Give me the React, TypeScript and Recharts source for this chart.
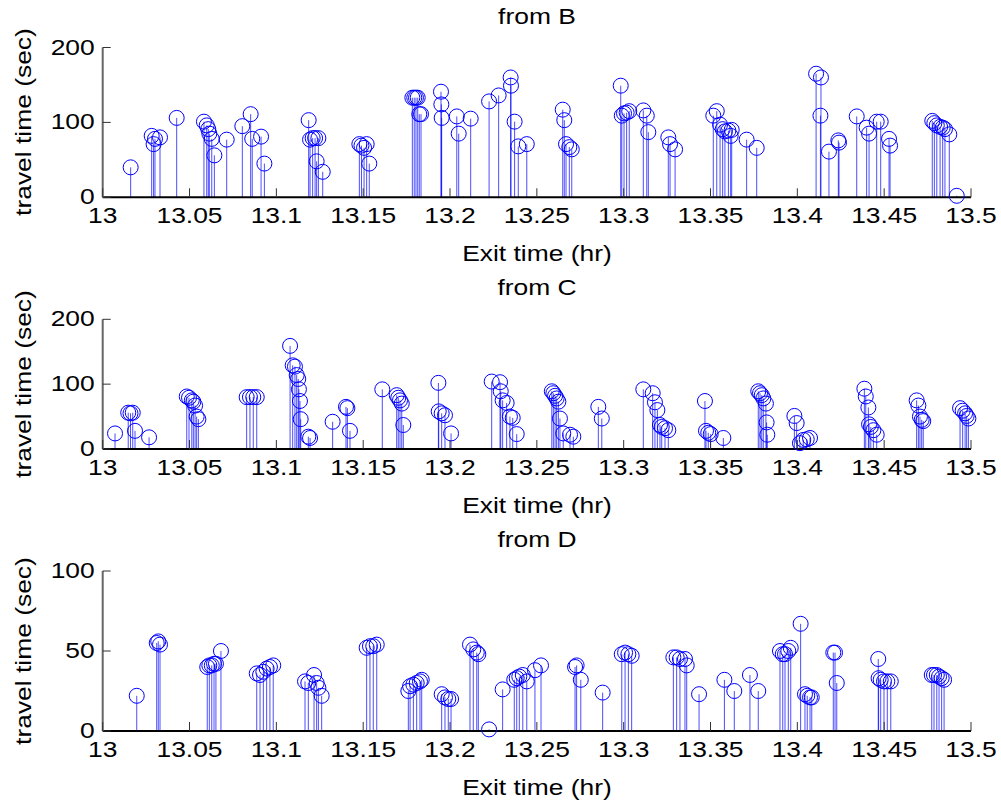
import { ScatterChart, Scatter, XAxis, YAxis, ErrorBar } from "recharts";

const xTicks = [13, 13.05, 13.1, 13.15, 13.2, 13.25, 13.3, 13.35, 13.4, 13.45, 13.5];
const yTicksBC = [0, 100, 200];
const yTicksD = [0, 50, 100];

// from B
const timesB = [
  13.0161, 13.0282, 13.0293, 13.0301, 13.033, 13.0426, 13.0583, 13.0599, 13.0608, 13.0614, 13.0628, 13.0643,
  13.0714, 13.0804, 13.0852, 13.0861, 13.0912, 13.0931, 13.1186, 13.1194, 13.1209, 13.1223, 13.1232, 13.1242,
  13.1267, 13.1478, 13.149, 13.1505, 13.152, 13.1535, 13.1783, 13.1794, 13.1804, 13.1814, 13.1823, 13.1833,
  13.1948, 13.195, 13.1952, 13.2039, 13.205, 13.2119, 13.2225, 13.228, 13.2349, 13.2351, 13.2372, 13.2393,
  13.2442, 13.2649, 13.2658, 13.2668, 13.2687, 13.2701, 13.2983, 13.2989, 13.3002, 13.3017, 13.3032, 13.3113,
  13.3133, 13.3142, 13.3257, 13.3267, 13.3296, 13.3516, 13.3536, 13.3555, 13.357, 13.3583, 13.3603, 13.3616,
  13.3622, 13.3708, 13.3766, 13.4108, 13.4133, 13.4136, 13.4182, 13.4236, 13.424, 13.4342, 13.4399, 13.4413,
  13.4457, 13.448, 13.4528, 13.4534, 13.4777, 13.4789, 13.4803, 13.4822, 13.4837, 13.485, 13.4875, 13.4918,
];
const travelB = [
  40, 82, 71, 78, 80, 106, 101, 96, 91, 85, 78, 56,
  77, 95, 111, 78, 81, 45, 103, 77, 79, 79, 48, 79,
  34, 71, 69, 66, 71, 45, 133, 133, 133, 133, 111, 111,
  141, 124, 106, 108, 85, 105, 128, 136, 160, 149, 101, 68,
  71, 117, 103, 71, 67, 64, 149, 109, 112, 113, 115, 116,
  109, 87, 80, 71, 64, 109, 115, 97, 91, 88, 89, 82,
  90, 77, 66, 165, 109, 160, 61, 76, 73, 108, 93, 85,
  101, 101, 78, 69, 102, 99, 96, 94, 93, 91, 84, 2,
];

// from C
const timesC = [
  13.0071, 13.0147, 13.016, 13.0173, 13.0186, 13.0267, 13.0484, 13.0497, 13.0513, 13.0522, 13.0532, 13.0541,
  13.0551, 13.0829, 13.0848, 13.0867, 13.0887, 13.1079, 13.1094, 13.1107, 13.1117, 13.1126, 13.113, 13.1136,
  13.114, 13.1184, 13.1194, 13.1324, 13.1401, 13.1409, 13.1424, 13.161, 13.1693, 13.1702, 13.1712, 13.1722,
  13.1731, 13.1933, 13.1935, 13.1952, 13.1971, 13.2006, 13.224, 13.2288, 13.2292, 13.2303, 13.2326, 13.2345,
  13.2361, 13.2384, 13.2586, 13.2595, 13.2605, 13.2614, 13.2624, 13.2633, 13.2652, 13.2691, 13.271, 13.2854,
  13.2874, 13.3113, 13.3167, 13.318, 13.3194, 13.3209, 13.3219, 13.3238, 13.3257, 13.3468, 13.3474, 13.3487,
  13.3501, 13.3574, 13.3775, 13.3785, 13.3795, 13.3804, 13.3819, 13.3823, 13.3827, 13.3983, 13.3996, 13.4015,
  13.4034, 13.4054, 13.4073, 13.4386, 13.4394, 13.4409, 13.4413, 13.4423, 13.4438, 13.4457, 13.4687, 13.4697,
  13.4706, 13.4716, 13.4725, 13.4937, 13.4952, 13.4966, 13.4975, 13.4985,
];
const travelC = [
  24, 56, 55, 56, 28, 18, 81, 79, 75, 73, 67, 50,
  46, 80, 80, 80, 80, 159, 129, 127, 114, 108, 92, 74,
  46, 19, 17, 42, 65, 63, 28, 92, 83, 79, 75, 70,
  37, 102, 58, 55, 52, 24, 104, 103, 89, 75, 71, 50,
  48, 23, 89, 86, 82, 78, 73, 47, 24, 22, 19, 65,
  47, 92, 86, 72, 60, 37, 34, 32, 29, 74, 28, 25,
  23, 17, 89, 86, 83, 78, 70, 41, 22, 51, 40, 9,
  14, 15, 17, 93, 81, 64, 38, 34, 29, 22, 75, 67,
  50, 45, 43, 63, 59, 55, 51, 47,
];

// from D
const timesD = [
  13.0196, 13.0311, 13.032, 13.033, 13.0602, 13.0614, 13.0628, 13.0641, 13.0652, 13.0681, 13.0887, 13.0906,
  13.0925, 13.0944, 13.0963, 13.0982, 13.1165, 13.1184, 13.1217, 13.1232, 13.1242, 13.1261, 13.152, 13.1539,
  13.1558, 13.1578, 13.176, 13.177, 13.1789, 13.1808, 13.1827, 13.1837, 13.1952, 13.1971, 13.199, 13.2006,
  13.2115, 13.2134, 13.2154, 13.2163, 13.2225, 13.2303, 13.237, 13.2384, 13.2399, 13.2419, 13.2442, 13.2489,
  13.2524, 13.272, 13.2729, 13.2753, 13.2879, 13.2989, 13.3008, 13.3027, 13.3046, 13.3286, 13.3305, 13.3324,
  13.3353, 13.3363, 13.3434, 13.358, 13.3637, 13.3727, 13.3775, 13.39, 13.3916, 13.3929, 13.3948, 13.3962,
  13.4019, 13.4044, 13.4057, 13.4073, 13.4083, 13.4207, 13.4217, 13.4227, 13.4466, 13.4468, 13.448, 13.4499,
  13.4518, 13.4538, 13.4774, 13.4787, 13.4803, 13.4816, 13.4831, 13.4845,
];
const travelD = [
  22, 55, 56, 54, 40, 41, 41, 42, 42, 50, 36, 35,
  37, 39, 40, 41, 31, 30, 35, 30, 27, 22, 52, 53,
  53, 54, 25, 28, 29, 30, 31, 32, 23, 21, 20, 20,
  54, 51, 49, 48, 1, 26, 32, 33, 34, 35, 31, 38,
  41, 40, 41, 32, 24, 48, 49, 48, 47, 46, 46, 45,
  45, 41, 23, 32, 25, 35, 25, 50, 48, 48, 50, 52,
  67, 23, 22, 21, 21, 49, 49, 30, 45, 33, 32, 31,
  31, 31, 35, 35, 35, 34, 33, 32,
];

const W = 1001;
const H = 802;
const PLOT_LEFT = 102.7;
const PLOT_RIGHT = 971;
const FONT = "'Liberation Sans', Arial, Helvetica, sans-serif";
const BLUE = "#0000ff";

const toPoints = (times: number[], vals: number[]) =>
  times.map((t, i) => ({ t, v: vals[i], stem: [vals[i], 0] }));

const fmt = (v: number) => String(Number(v.toFixed(2)));

const XTick = (props: any) => {
  const { x, y, payload } = props;
  return (
    <g>
      <line x1={x} x2={x} y1={y} y2={y - 9} stroke="#333" strokeWidth={1} />
      <text
        transform={`translate(${x},${y + 26}) scale(1.2,1)`}
        textAnchor="middle"
        fontSize={22}
        fontFamily={FONT}
        fill="#000"
      >
        {fmt(payload.value)}
      </text>
    </g>
  );
};

const YTick = (props: any) => {
  const { x, y, payload } = props;
  return (
    <g>
      <line x1={x} x2={x + 8} y1={y} y2={y} stroke="#333" strokeWidth={1} />
      <text
        transform={`translate(${x - 8},${y + 7}) scale(1.2,1)`}
        textAnchor="end"
        fontSize={22}
        fontFamily={FONT}
        fill="#000"
      >
        {payload.value}
      </text>
    </g>
  );
};

const Marker = (props: any) => (
  <circle cx={props.cx} cy={props.cy} r={7.5} fill="none" stroke={BLUE} strokeWidth={1} />
);

const textStyle = {
  position: "absolute" as const,
  fontFamily: FONT,
  fontSize: 22,
  lineHeight: "26px",
  color: "#000",
  whiteSpace: "nowrap" as const,
  textAlign: "center" as const,
};

function Panel(props: {
  title: string;
  times: number[];
  vals: number[];
  yMax: number;
  yTicks: number[];
  plotTop: number;
  plotBottom: number;
}) {
  const { title, times, vals, yMax, yTicks, plotTop, plotBottom } = props;
  const cx = (PLOT_LEFT + PLOT_RIGHT) / 2;
  const cy = (plotTop + plotBottom) / 2;
  return (
    <>
      <div style={{ position: "absolute", left: 0, top: 0 }}>
        <ScatterChart
          width={W}
          height={H}
          margin={{ top: plotTop, right: W - PLOT_RIGHT, bottom: 0, left: 0 }}
        >
          <XAxis
            type="number"
            dataKey="t"
            domain={[13, 13.5]}
            ticks={xTicks}
            interval={0}
            height={H - plotBottom}
            tickSize={0}
            tickMargin={0}
            tickLine={false}
            axisLine={{ stroke: "#000", strokeWidth: 2 }}
            tick={<XTick />}
          />
          <YAxis
            type="number"
            dataKey="v"
            domain={[0, yMax]}
            ticks={yTicks}
            interval={0}
            width={PLOT_LEFT}
            tickSize={0}
            tickMargin={0}
            tickLine={false}
            axisLine={{ stroke: "#666", strokeWidth: 2 }}
            tick={<YTick />}
          />
          <Scatter data={toPoints(times, vals)} shape={Marker} isAnimationActive={false}>
            <ErrorBar
              dataKey="stem"
              direction="y"
              width={0}
              stroke={BLUE}
              strokeOpacity={0.7}
              strokeWidth={1}
              isAnimationActive={false}
            />
          </Scatter>
        </ScatterChart>
      </div>
      <div style={{ ...textStyle, left: cx - 200, width: 400, top: plotTop - 31 - 13, transform: "scaleX(1.2)" }}>
        {title}
      </div>
      <div style={{ ...textStyle, left: cx - 200, width: 400, top: plotBottom + 57 - 13, transform: "scaleX(1.2)" }}>
        Exit time (hr)
      </div>
      <div
        style={{
          ...textStyle,
          left: 24 - 150,
          width: 300,
          top: cy - 13,
          transform: "rotate(-90deg) scaleX(1.2)",
        }}
      >
        travel time (sec)
      </div>
    </>
  );
}

export default function App() {
  return (
    <div style={{ position: "absolute", left: 0, top: 0, width: W, height: H, background: "#fff", overflow: "hidden" }}>
      <Panel title="from B" times={timesB} vals={travelB} yMax={200} yTicks={yTicksBC} plotTop={47.5} plotBottom={197.3} />
      <Panel title="from C" times={timesC} vals={travelC} yMax={200} yTicks={yTicksBC} plotTop={319.3} plotBottom={449} />
      <Panel title="from D" times={timesD} vals={travelD} yMax={100} yTicks={yTicksD} plotTop={571} plotBottom={731} />
    </div>
  );
}
